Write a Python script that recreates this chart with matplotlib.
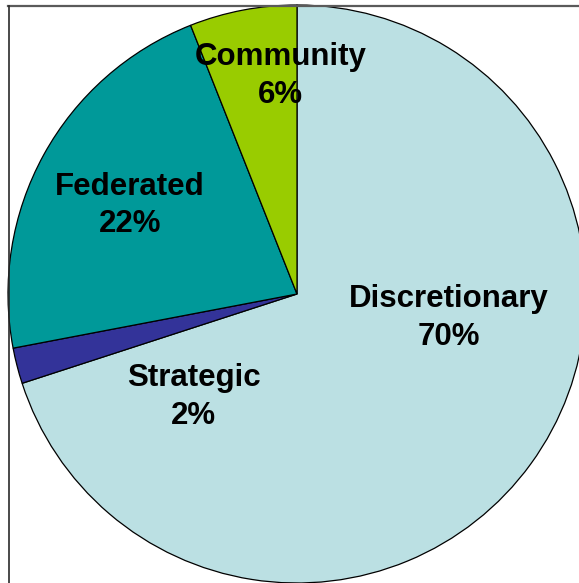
import numpy as np
import matplotlib.pyplot as plt
from matplotlib.lines import Line2D

# Datos del gráfico
categorias = ["Discretionary", "Strategic", "Federated", "Community"]
valores = [70, 2, 22, 6]
colores = ["#BBE0E3", "#333399", "#009999", "#99CC00"]

# Posiciones de las etiquetas (coordenadas de datos)
pos_etiquetas = [(0.524, -0.084), (-0.358, -0.356), (-0.578, 0.306), (-0.058, 0.755)]

W, H = 579, 583
fig = plt.figure(figsize=(W / 100, H / 100), dpi=100)
ax = fig.add_axes([0, 0, 1, 1])

cx, cy, r = 297, 294, 289  # centro y radio en pixeles
ax.pie(valores, colors=colores, startangle=90, counterclock=False,
       radius=1.0, wedgeprops=dict(edgecolor="black", linewidth=0.9))

for cat, val, (x, y) in zip(categorias, valores, pos_etiquetas):
    ax.text(x, y, f"{cat}\n{val}%", ha="center", va="center",
            fontsize=22.5, fontweight="bold", family="Liberation Sans",
            linespacing=1.34, color="black")

ax.set_xlim(-cx / r, (W - cx) / r)
ax.set_ylim(-(H - cy) / r, cy / r)
ax.set_aspect("auto")
ax.axis("off")

# Marco (solo se ven el borde superior e izquierdo)
fig.add_artist(Line2D([8 / W, 1], [1 - 5.5 / H, 1 - 5.5 / H], color="#5a5a5a", linewidth=1.6))
fig.add_artist(Line2D([8.5 / W, 8.5 / W], [0, 1 - 5.5 / H], color="#2a2a2a", linewidth=1.2))

plt.savefig("out.png", dpi=100, facecolor="white")
